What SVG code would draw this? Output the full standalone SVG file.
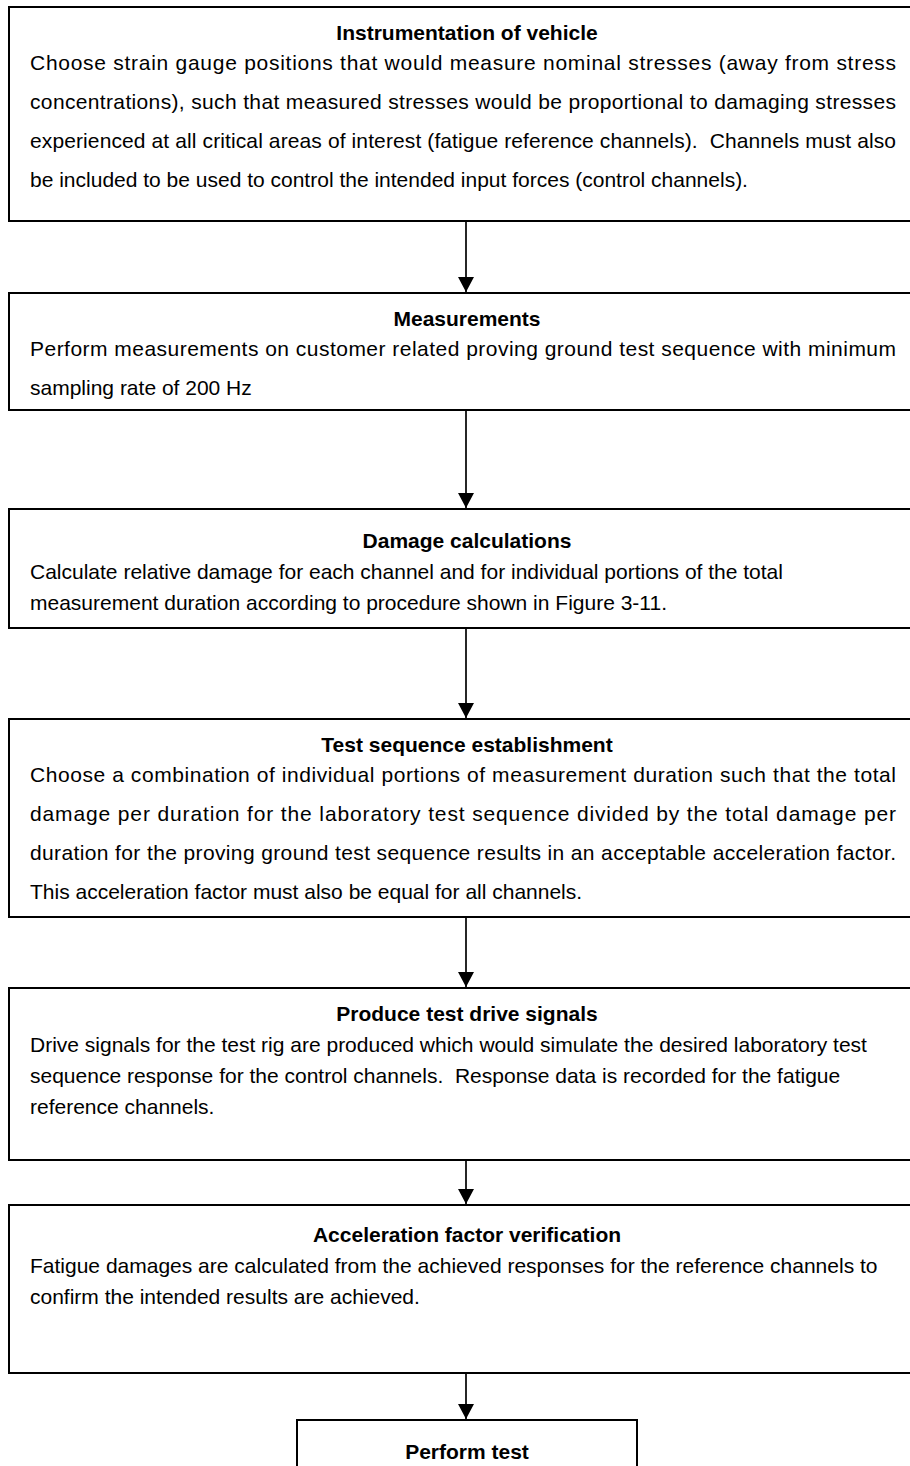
<svg xmlns="http://www.w3.org/2000/svg" width="910" height="1466" viewBox="0 0 910 1466">
<style>
.box{fill:#fff;stroke:#000;stroke-width:2}
.t{font-family:"Liberation Sans",Arial,sans-serif;font-size:21px;fill:#000}
.h{font-family:"Liberation Sans",Arial,sans-serif;font-size:21px;font-weight:bold;fill:#000;text-anchor:middle}
.c{stroke:#000;stroke-width:1.7;fill:none;marker-end:url(#ah)}
</style>
<defs>
<marker id="ah" viewBox="0 0 15 16" refX="15" refY="8" markerWidth="15" markerHeight="16" markerUnits="userSpaceOnUse" orient="auto">
<path d="M0,0 L15,8 L0,16 Z" fill="#000"/>
</marker>
</defs>
<rect width="910" height="1466" fill="#fff"/>
<g id="connectors">
<line class="c" x1="466" y1="221" x2="466" y2="292"/>
<line class="c" x1="466" y1="410" x2="466" y2="508"/>
<line class="c" x1="466" y1="628" x2="466" y2="718"/>
<line class="c" x1="466" y1="917" x2="466" y2="987"/>
<line class="c" x1="466" y1="1160" x2="466" y2="1204"/>
<line class="c" x1="466" y1="1373" x2="466" y2="1419"/>
</g>
<g id="n1">
<rect class="box" x="9" y="7" width="930" height="214"/>
<text class="h" x="467" y="40">Instrumentation of vehicle</text>
<text class="t" x="30" y="70" textLength="866" lengthAdjust="spacing">Choose strain gauge positions that would measure nominal stresses (away from stress</text>
<text class="t" x="30" y="109" textLength="866" lengthAdjust="spacing">concentrations), such that measured stresses would be proportional to damaging stresses</text>
<text class="t" x="30" y="148" textLength="866" lengthAdjust="spacing" xml:space="preserve">experienced at all critical areas of interest (fatigue reference channels).  Channels must also</text>
<text class="t" x="30" y="187">be included to be used to control the intended input forces (control channels).</text>
</g>
<g id="n2">
<rect class="box" x="9" y="293" width="930" height="117"/>
<text class="h" x="467" y="326">Measurements</text>
<text class="t" x="30" y="356" textLength="866" lengthAdjust="spacing">Perform measurements on customer related proving ground test sequence with minimum</text>
<text class="t" x="30" y="395">sampling rate of 200 Hz</text>
</g>
<g id="n3">
<rect class="box" x="9" y="509" width="930" height="119"/>
<text class="h" x="467" y="548">Damage calculations</text>
<text class="t" x="30" y="579">Calculate relative damage for each channel and for individual portions of the total</text>
<text class="t" x="30" y="610">measurement duration according to procedure shown in Figure 3-11.</text>
</g>
<g id="n4">
<rect class="box" x="9" y="719" width="930" height="198"/>
<text class="h" x="467" y="752">Test sequence establishment</text>
<text class="t" x="30" y="782" textLength="866" lengthAdjust="spacing">Choose a combination of individual portions of measurement duration such that the total</text>
<text class="t" x="30" y="821" textLength="866" lengthAdjust="spacing">damage per duration for the laboratory test sequence divided by the total damage per</text>
<text class="t" x="30" y="860" textLength="866" lengthAdjust="spacing">duration for the proving ground test sequence results in an acceptable acceleration factor.</text>
<text class="t" x="30" y="899">This acceleration factor must also be equal for all channels.</text>
</g>
<g id="n5">
<rect class="box" x="9" y="988" width="930" height="172"/>
<text class="h" x="467" y="1021">Produce test drive signals</text>
<text class="t" x="30" y="1052">Drive signals for the test rig are produced which would simulate the desired laboratory test</text>
<text class="t" x="30" y="1083" xml:space="preserve">sequence response for the control channels.  Response data is recorded for the fatigue</text>
<text class="t" x="30" y="1114">reference channels.</text>
</g>
<g id="n6">
<rect class="box" x="9" y="1205" width="930" height="168"/>
<text class="h" x="467" y="1242">Acceleration factor verification</text>
<text class="t" x="30" y="1273">Fatigue damages are calculated from the achieved responses for the reference channels to</text>
<text class="t" x="30" y="1304">confirm the intended results are achieved.</text>
</g>
<g id="n7">
<rect class="box" x="297" y="1420" width="340" height="60"/>
<text class="h" x="467" y="1459">Perform test</text>
</g>
</svg>
